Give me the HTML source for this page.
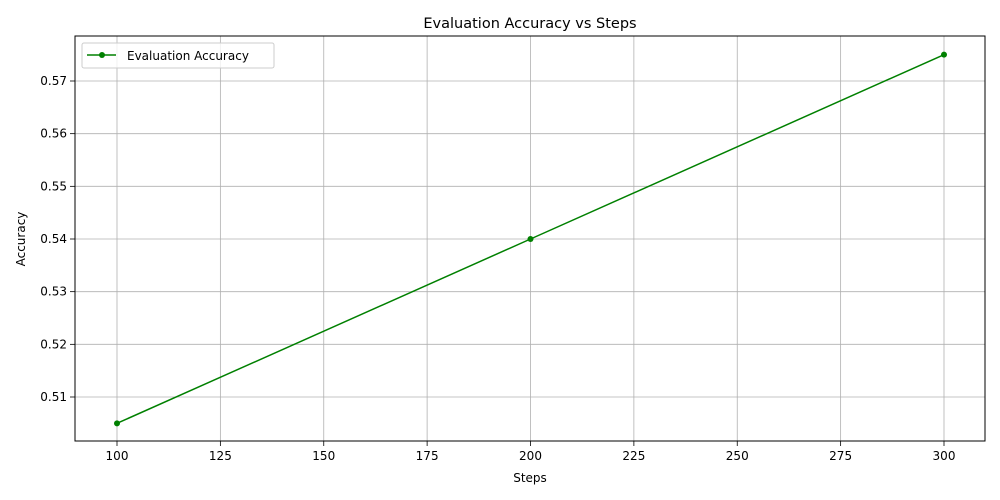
<!DOCTYPE html>
<html><head><meta charset="utf-8"><style>
html,body{margin:0;padding:0;background:#fff;}
svg{display:block;font-family:"DejaVu Sans","Liberation Sans",sans-serif;}
</style></head><body>
<svg id="chart" width="1000" height="500"></svg>
<script>
const steps = [100, 200, 300];
const accuracy = [0.505, 0.540, 0.575];
const xTicks = [100, 125, 150, 175, 200, 225, 250, 275, 300];
const yTicks = [0.51, 0.52, 0.53, 0.54, 0.55, 0.56, 0.57];

const L=75, R=985, T=36, B=441;
const x = v => 117 + (v-100)*(944-117)/200;
const y = v => 397 - (v-0.51)*(397-81)/0.06;
const svg = document.getElementById('chart');
const NS='http://www.w3.org/2000/svg';
function mk(tag, attrs, parent){const e=document.createElementNS(NS,tag);for(const k in attrs)e.setAttribute(k,attrs[k]);(parent||svg).appendChild(e);return e;}

const grid = mk('g',{});


xTicks.forEach(t=>{
  mk('line',{x1:x(t),x2:x(t),y1:T,y2:B,stroke:'#b0b0b0','stroke-width':0.8},grid);
  const tk=mk('line',{x1:x(t),x2:x(t),y1:B,y2:B+5,stroke:'#000','stroke-width':0.8});
  
  
  const tx=mk('text',{x:x(t),y:B+19,'text-anchor':'middle','font-size':12,fill:'#000'});
  tx.textContent=t;
  
  
});
yTicks.forEach(t=>{
  mk('line',{x1:L,x2:R,y1:y(t),y2:y(t),stroke:'#b0b0b0','stroke-width':0.8},grid);
  mk('line',{x1:L-5,x2:L,y1:y(t),y2:y(t),stroke:'#000','stroke-width':0.8});
  const tx=mk('text',{x:L-8,y:y(t)+4,'text-anchor':'end','font-size':12,fill:'#000'});
  tx.textContent=t.toFixed(2);
  
  
});
const frame=mk('rect',{x:L,y:T,width:R-L,height:B-T,fill:'none',stroke:'#000','stroke-width':1});



const line=mk('polyline',{points:steps.map((s,i)=>x(s)+','+y(accuracy[i])).join(' '),fill:'none',stroke:'#008000','stroke-width':1.5});


steps.forEach((s,i)=>{
  const c=mk('circle',{cx:x(s),cy:y(accuracy[i]),r:3,fill:'#008000'});
  
  
});

const title=mk('text',{x:(L+R)/2,y:28,'text-anchor':'middle','font-size':14.5,fill:'#000'});
title.textContent='Evaluation Accuracy vs Steps';


const xl=mk('text',{x:(L+R)/2,y:482,'text-anchor':'middle','font-size':12,fill:'#000'});
xl.textContent='Steps';


const yl=mk('text',{x:0,y:0,'text-anchor':'middle','font-size':12,fill:'#000',transform:'translate(25,239) rotate(-90)'});
yl.textContent='Accuracy';



const lg=mk('g',{});


mk('rect',{x:82,y:43,width:192,height:25,rx:2,fill:'#fff','fill-opacity':0.8,stroke:'#ccc','stroke-width':1},lg);
mk('line',{x1:87,x2:116,y1:55,y2:55,stroke:'#008000','stroke-width':1.5},lg);
mk('circle',{cx:102,cy:55,r:3,fill:'#008000'},lg);
const lt=mk('text',{x:127,y:60,'font-size':12,fill:'#000'},lg);
lt.textContent='Evaluation Accuracy';


</script>
</body></html>
